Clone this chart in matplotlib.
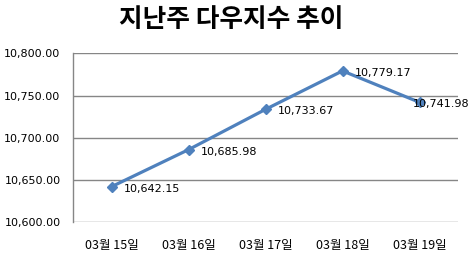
import numpy as np
import matplotlib.pyplot as plt
from matplotlib.ticker import FuncFormatter

title = '지난주 다우지수 추이'
dates = ['03월 15일', '03월 16일', '03월 17일', '03월 18일', '03월 19일']
values = [10642.15, 10685.98, 10733.67, 10779.17, 10741.98]

line_color = '#4F81BD'
grid_color = '#868686'

fig = plt.figure(figsize=(4.72, 2.59), dpi=100)
ax = fig.add_axes([0.1547, 0.1417, 0.8157, 0.6525])

x = np.arange(len(values))
ax.plot(x, values, color=line_color, lw=2.3, marker='D', ms=5.5, zorder=3)

for i, v in enumerate(values):
    dx = 12 if i < len(values) - 1 else -7
    ax.annotate('{:,.2f}'.format(v), (x[i], v), xytext=(dx, -2),
                textcoords='offset pixels', ha='left', va='center',
                fontsize=8, family='DejaVu Sans', color='black', zorder=4)

ax.set_xlim(-0.5, len(values) - 0.5)
ax.set_ylim(10600, 10800)
ax.set_yticks(np.arange(10600, 10801, 50))
ax.yaxis.set_major_formatter(FuncFormatter(lambda v, p: '{:,.2f}'.format(v)))
ax.set_xticks(x)
ax.set_xticklabels(dates, family=['Noto Sans CJK KR', 'DejaVu Sans'], fontsize=9)
for lab in ax.get_yticklabels():
    lab.set_fontsize(8)
    lab.set_family('DejaVu Sans')

ax.tick_params(axis='y', length=0, pad=9)
ax.tick_params(axis='x', length=0, pad=12)
ax.grid(axis='y', color=grid_color, lw=1)
ax.set_axisbelow(True)
for s in ['top', 'right', 'bottom']:
    ax.spines[s].set_visible(False)
ax.spines['left'].set_color(grid_color)
ax.spines['left'].set_linewidth(1)

fig.text(0.489, 0.925, title, ha='center', va='center', fontsize=18.5,
         fontweight='bold', family=['Noto Sans CJK KR', 'DejaVu Sans'])

fig.savefig('out.png', dpi=100)
